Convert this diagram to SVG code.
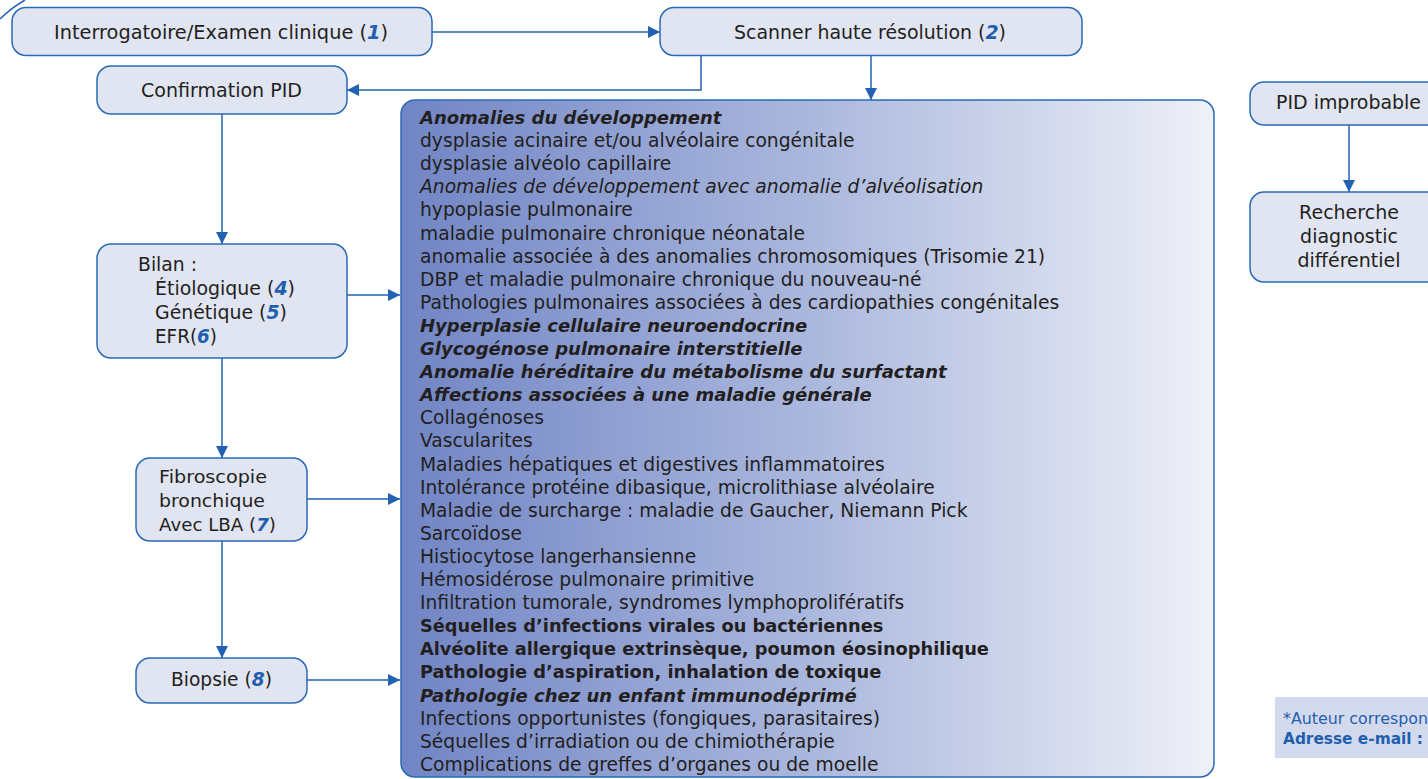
<svg xmlns="http://www.w3.org/2000/svg" width="1428" height="779" viewBox="0 0 1428 779">
<defs>
<linearGradient id="grad" x1="0" y1="0" x2="1" y2="0">
<stop offset="0" stop-color="#7185c5"/>
<stop offset="0.5" stop-color="#aab7dd"/>
<stop offset="1" stop-color="#eff1f8"/>
</linearGradient>
<marker id="arr" markerUnits="userSpaceOnUse" markerWidth="13" markerHeight="12" refX="12" refY="6" orient="auto">
<path d="M0,0 L12,6 L0,12 z" fill="#2163b2"/>
</marker>
<style>
.box{fill:#e1e5f2;stroke:#2a69b5;stroke-width:1.5}
.big{fill:url(#grad);stroke:#2a69b5;stroke-width:1.5}
.con{fill:none;stroke:#2163b2;stroke-width:1.5}
.lbl{font-family:"DejaVu Sans",sans-serif;font-size:19px;fill:#231f20}
.sm{font-size:18px}
.num{font-weight:bold;font-style:italic;fill:#1f5fae}
.t{font-family:"DejaVu Sans",sans-serif;font-size:18.7px;fill:#231f20}
.t.bi{font-weight:bold;font-style:italic;font-size:18px}
.t.i{font-style:italic}
.t.b{font-weight:bold;font-size:17.8px}
.foot{font-family:"DejaVu Sans",sans-serif;font-size:15.5px;fill:#1f5fae}
.fb{font-weight:bold}
</style>
</defs>
<path class="con" d="M0,19 Q11,8 25,0"/>
<g id="connectors">
<line class="con" x1="432" y1="32" x2="660" y2="32" marker-end="url(#arr)"/>
<polyline class="con" points="701,56 701,90 347,90" marker-end="url(#arr)"/>
<line class="con" x1="871" y1="56" x2="871" y2="100" marker-end="url(#arr)"/>
<line class="con" x1="222" y1="114" x2="222" y2="244" marker-end="url(#arr)"/>
<line class="con" x1="347" y1="295" x2="400" y2="295" marker-end="url(#arr)"/>
<line class="con" x1="222" y1="358" x2="222" y2="458" marker-end="url(#arr)"/>
<line class="con" x1="307" y1="499" x2="400" y2="499" marker-end="url(#arr)"/>
<line class="con" x1="222" y1="541" x2="222" y2="658" marker-end="url(#arr)"/>
<line class="con" x1="307" y1="680" x2="400" y2="680" marker-end="url(#arr)"/>
<line class="con" x1="1349" y1="125" x2="1349" y2="192" marker-end="url(#arr)"/>
</g>
<g id="interrogatoire">
<rect class="box" x="12" y="7.5" width="420" height="48" rx="14"/>
<text class="lbl" x="54" y="39" textLength="334" lengthAdjust="spacingAndGlyphs">Interrogatoire/Examen clinique (<tspan class="num">1</tspan>)</text>
</g>
<g id="scanner">
<rect class="box" x="660" y="7.5" width="422" height="48" rx="14"/>
<text class="lbl" x="734" y="39" textLength="272" lengthAdjust="spacingAndGlyphs">Scanner haute résolution (<tspan class="num">2</tspan>)</text>
</g>
<g id="confirmation">
<rect class="box" x="97" y="66" width="250" height="48" rx="14"/>
<text class="lbl" x="141" y="97" textLength="161" lengthAdjust="spacingAndGlyphs">Confirmation PID</text>
</g>
<g id="bilan">
<rect class="box" x="97" y="244" width="250" height="114" rx="14"/>
<text class="lbl" x="138" y="271" textLength="59" lengthAdjust="spacingAndGlyphs">Bilan :</text>
<text class="lbl" x="155" y="295" textLength="140" lengthAdjust="spacingAndGlyphs">Étiologique (<tspan class="num">4</tspan>)</text>
<text class="lbl" x="155" y="319" textLength="132" lengthAdjust="spacingAndGlyphs">Génétique (<tspan class="num">5</tspan>)</text>
<text class="lbl" x="155" y="343" textLength="62" lengthAdjust="spacingAndGlyphs">EFR(<tspan class="num">6</tspan>)</text>
</g>
<g id="fibroscopie">
<rect class="box" x="136" y="458" width="171" height="83" rx="14"/>
<text class="lbl sm" x="159" y="483" textLength="108" lengthAdjust="spacingAndGlyphs">Fibroscopie</text>
<text class="lbl sm" x="159" y="507" textLength="106" lengthAdjust="spacingAndGlyphs">bronchique</text>
<text class="lbl sm" x="159" y="531" textLength="117" lengthAdjust="spacingAndGlyphs">Avec LBA (<tspan class="num">7</tspan>)</text>
</g>
<g id="biopsie">
<rect class="box" x="136" y="658" width="171" height="45" rx="14"/>
<text class="lbl" x="171" y="686" textLength="101" lengthAdjust="spacingAndGlyphs">Biopsie (<tspan class="num">8</tspan>)</text>
</g>
<g id="liste">
<rect class="big" x="401" y="100" width="813" height="677" rx="14"/>
<text class="t bi" x="420" y="124">Anomalies du développement</text>
<text class="t" x="420" y="147.1">dysplasie acinaire et/ou alvéolaire congénitale</text>
<text class="t" x="420" y="170.2">dysplasie alvéolo capillaire</text>
<text class="t i" x="420" y="193.3">Anomalies de développement avec anomalie d’alvéolisation</text>
<text class="t" x="420" y="216.4">hypoplasie pulmonaire</text>
<text class="t" x="420" y="239.5">maladie pulmonaire chronique néonatale</text>
<text class="t" x="420" y="262.6">anomalie associée à des anomalies chromosomiques (Trisomie 21)</text>
<text class="t" x="420" y="285.7">DBP et maladie pulmonaire chronique du nouveau-né</text>
<text class="t" x="420" y="308.8">Pathologies pulmonaires associées à des cardiopathies congénitales</text>
<text class="t bi" x="420" y="331.9">Hyperplasie cellulaire neuroendocrine</text>
<text class="t bi" x="420" y="355">Glycogénose pulmonaire interstitielle</text>
<text class="t bi" x="420" y="378.1">Anomalie héréditaire du métabolisme du surfactant</text>
<text class="t bi" x="420" y="401.2">Affections associées à une maladie générale</text>
<text class="t" x="420" y="424.3">Collagénoses</text>
<text class="t" x="420" y="447.4">Vascularites</text>
<text class="t" x="420" y="470.5">Maladies hépatiques et digestives inflammatoires</text>
<text class="t" x="420" y="493.6">Intolérance protéine dibasique, microlithiase alvéolaire</text>
<text class="t" x="420" y="516.7">Maladie de surcharge : maladie de Gaucher, Niemann Pick</text>
<text class="t" x="420" y="539.8">Sarcoïdose</text>
<text class="t" x="420" y="562.9">Histiocytose langerhansienne</text>
<text class="t" x="420" y="586">Hémosidérose pulmonaire primitive</text>
<text class="t" x="420" y="609.1">Infiltration tumorale, syndromes lymphoprolifératifs</text>
<text class="t b" x="420" y="632.2">Séquelles d’infections virales ou bactériennes</text>
<text class="t b" x="420" y="655.3">Alvéolite allergique extrinsèque, poumon éosinophilique</text>
<text class="t b" x="420" y="678.4">Pathologie d’aspiration, inhalation de toxique</text>
<text class="t bi" x="420" y="701.5">Pathologie chez un enfant immunodéprimé</text>
<text class="t" x="420" y="724.6">Infections opportunistes (fongiques, parasitaires)</text>
<text class="t" x="420" y="747.7">Séquelles d’irradiation ou de chimiothérapie</text>
<text class="t" x="420" y="770.8">Complications de greffes d’organes ou de moelle</text>
</g>
<g id="pid-improbable">
<rect class="box" x="1250" y="82" width="220" height="43" rx="14"/>
<text class="lbl" x="1276" y="109" textLength="145" lengthAdjust="spacingAndGlyphs">PID improbable</text>
</g>
<g id="recherche">
<rect class="box" x="1250" y="192" width="220" height="90" rx="14"/>
<text class="lbl" x="1349" y="219" text-anchor="middle">Recherche</text>
<text class="lbl" x="1349" y="243" text-anchor="middle">diagnostic</text>
<text class="lbl" x="1349" y="267" text-anchor="middle">différentiel</text>
</g>
<g id="note">
<rect x="1275" y="697" width="160" height="61" fill="#d4daee"/>
<text class="foot" x="1283" y="724" textLength="145" lengthAdjust="spacingAndGlyphs">*Auteur correspon</text>
<text class="foot fb" x="1283" y="744" textLength="140" lengthAdjust="spacingAndGlyphs">Adresse e-mail :</text>
</g>
</svg>
